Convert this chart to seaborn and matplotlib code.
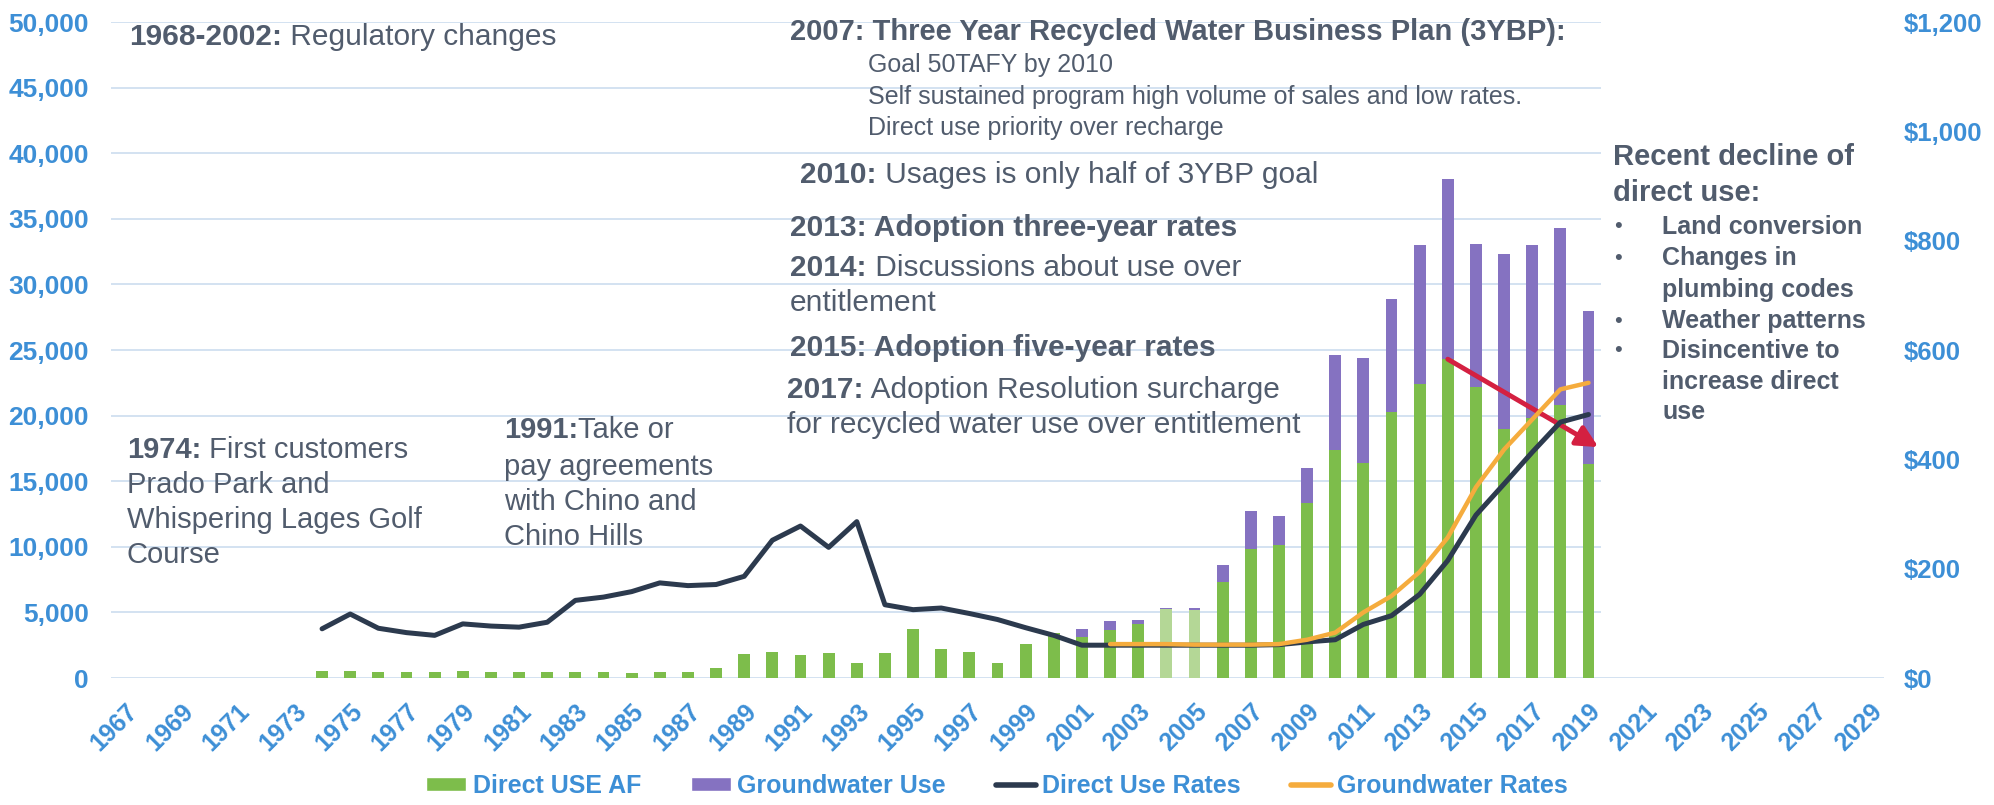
import matplotlib.pyplot as plt
import numpy as np
import seaborn as sns
from matplotlib.patches import Patch, Rectangle
from matplotlib.lines import Line2D
from matplotlib.ticker import FuncFormatter

# values (AF on the left axis, $ on the right axis)
years = list(range(1974, 2020))
direct_use_af = [540, 540, 470, 470, 490, 500, 470, 470, 450, 450, 430, 400, 450, 450, 750,
                 1850, 1950, 1750, 1900, 1150, 1900, 3700, 2200, 2000, 1150, 2600, 3450,
                 3150, 3650, 4100, 5250, 5200, 7350, 9800, 10100, 13350,
                 17400, 16400, 20300, 22400, 24300, 22200, 19000, 19800, 20800, 16300]
groundwater_af = [0] * 27 + [550, 700, 300, 100, 100, 1300, 2900, 2250, 2650,
                             7200, 8000, 8600, 10600, 13700, 10900, 13300, 13200, 13500, 11700]
direct_rates = [90, 117, 91, 83, 78, 99, 95, 93, 102, 142,
                148, 158, 174, 169, 171, 186, 252, 278, 239, 286,
                134, 125, 128, 118, 107, 92, 78, 60, 60, 60,
                60, 60, 60, 60, 61, 66, 70, 98, 114, 153,
                215, 298, 355, 413, 468, 482]
gw_years = list(range(2002, 2020))
gw_rates = [62, 62, 62, 61, 61, 61, 62, 70, 83, 120, 150, 194, 257, 349, 418, 473, 528, 540]
light_years = [2004, 2005]
tick_years = list(range(1967, 2030, 2))

GREEN, LIGHT_GREEN, PURPLE = "#7dbd4b", "#b4d796", "#8572c1"
DARK, ORANGE, RED = "#2c3a4e", "#f5ac3d", "#d42041"
BLUE, TXT = "#3d8fd6", "#515c6d"

sns.set_style("white")
plt.rcParams["font.family"] = ["Liberation Sans", "DejaVu Sans"]

W, H = 1994, 805
fig = plt.figure(figsize=(W / 100, H / 100), dpi=100)
ax = fig.add_axes([111 / W, 1 - 678 / H, 1773 / W, 656 / H])

total_af = [d + g for d, g in zip(direct_use_af, groundwater_af)]
sns.barplot(x=years, y=total_af, native_scale=True, width=0.42, color=PURPLE,
            saturation=1, linewidth=0, errorbar=None, ax=ax)
sns.barplot(x=years, y=direct_use_af, native_scale=True, width=0.42, color=GREEN,
            saturation=1, linewidth=0, errorbar=None, ax=ax)
for yr, bar in zip(years, ax.containers[-1]):
    if yr in light_years:
        bar.set_facecolor(LIGHT_GREEN)

ax.set_xlim(1966.5, 2029.5)
ax.set_ylim(0, 50000)
ax.set_yticks(range(0, 50001, 5000))
ax.yaxis.set_major_formatter(FuncFormatter(lambda v, p: f"{v:,.0f}"))
ax.set_xticks(tick_years)
ax.set_xticklabels([str(y) for y in tick_years])
ax.set_axisbelow(True)
ax.grid(axis="y", color="#d3e2f1", lw=1.4)
ax.grid(axis="x", visible=False)
ax.tick_params(axis="y", length=0, pad=16, labelsize=19, labelcolor=BLUE)
ax.tick_params(axis="x", length=0, pad=15, labelsize=18, labelcolor=BLUE)
for lab in ax.get_yticklabels() + ax.get_xticklabels():
    lab.set_fontweight("bold")
for lab in ax.get_xticklabels():
    lab.set_rotation(45)
    lab.set_ha("right")
    lab.set_va("top")
    lab.set_rotation_mode("anchor")
sns.despine(ax=ax, left=True, bottom=True)
ax.set_xlabel("")
ax.set_ylabel("")

# white text box on the right hides the gridlines
ax.add_patch(Rectangle((2019.45, 250), 11, 50500, facecolor="white", edgecolor="none", zorder=0.8))

# decline arrow from the 2014 peak of direct use
i14 = years.index(2014)
ax.annotate("", xy=(2019.35, 17600), xytext=(2014, direct_use_af[i14]),
            arrowprops=dict(arrowstyle="-|>", color=RED, lw=3.5, mutation_scale=32,
                            shrinkA=0, shrinkB=0), zorder=5)

ax2 = ax.twinx()
sns.lineplot(x=years, y=direct_rates, color=DARK, lw=3.6, ax=ax2)
sns.lineplot(x=gw_years, y=gw_rates, color=ORANGE, lw=3.2, ax=ax2)
ax2.set_ylim(0, 1200)
ax2.set_xlim(1966.5, 2029.5)
ax2.set_yticks(range(0, 1201, 200))
ax2.yaxis.set_major_formatter(FuncFormatter(lambda v, p: f"${v:,.0f}"))
ax2.tick_params(axis="y", length=0, pad=14, labelsize=18.5, labelcolor=BLUE)
for lab in ax2.get_yticklabels():
    lab.set_fontweight("bold")
ax2.set_ylabel("")
ax2.grid(False)
for s in ax2.spines.values():
    s.set_visible(False)


def note(x, y, bold="", rest="", size=21):
    if bold:
        t = fig.text(x / W, 1 - y / H, bold, fontsize=size, fontweight="bold",
                     color=TXT, ha="left", va="center")
        if rest:
            ax.annotate(rest, xy=(1, 0.5), xycoords=t, fontsize=size, color=TXT,
                        ha="left", va="center")
    else:
        fig.text(x / W, 1 - y / H, rest, fontsize=size, color=TXT, ha="left", va="center")


note(129, 37, "1968-2002:", " Regulatory changes", size=21.5)
note(127, 450, "1974:", " First customers")
note(127, 485, rest="Prado Park and")
note(127, 520, rest="Whispering Lages Golf")
note(127, 555, rest="Course")
note(504, 430, "1991:", "Take or")
note(504, 467, rest="pay agreements")
note(504, 502, rest="with Chino and")
note(504, 537, rest="Chino Hills")

note(790, 32, "2007: Three Year Recycled Water Business Plan (3YBP):", size=21)
note(868, 65, rest="Goal 50TAFY by 2010", size=18)
note(868, 97, rest="Self sustained program high volume of sales and low rates.", size=18)
note(868, 128, rest="Direct use priority over recharge", size=18)
note(800, 175, "2010:", " Usages is only half of 3YBP goal", size=21.5)
note(790, 228, "2013: Adoption three-year rates", size=21.5)
note(790, 268, "2014:", " Discussions about use over", size=21.5)
note(790, 303, rest="entitlement", size=21.5)
note(790, 348, "2015: Adoption five-year rates", size=21.5)
note(787, 390, "2017:", " Adoption Resolution surcharge", size=21.5)
note(787, 425, rest="for recycled water use over entitlement", size=21.5)

note(1613, 157, "Recent decline of")
note(1613, 193, "direct use:")
for yy, txt, bullet in [(227, "Land conversion", True), (258, "Changes in", True),
                        (290, "plumbing codes", False), (321, "Weather patterns", True),
                        (351, "Disincentive to", True), (382, "increase direct", False),
                        (412, "use", False)]:
    if bullet:
        fig.text(1614 / W, 1 - yy / H, "\u2022", fontsize=16, color=TXT, ha="left", va="center")
    note(1662, yy, txt, size=18)

handles = [Patch(facecolor=GREEN), Patch(facecolor=PURPLE),
           Line2D([], [], color=DARK, lw=4), Line2D([], [], color=ORANGE, lw=4)]
labels = ["Direct USE AF", "Groundwater Use", "Direct Use Rates", "Groundwater Rates"]
fig.legend(handles, labels, loc="center", bbox_to_anchor=(0.5, 1 - 786 / H), ncol=4,
           frameon=False, prop={"size": 18, "weight": "bold"}, labelcolor=BLUE,
           handlelength=1.6, handleheight=0.5, handletextpad=0.25, columnspacing=2.0)

fig.savefig("out.png", dpi=100, facecolor="white")
